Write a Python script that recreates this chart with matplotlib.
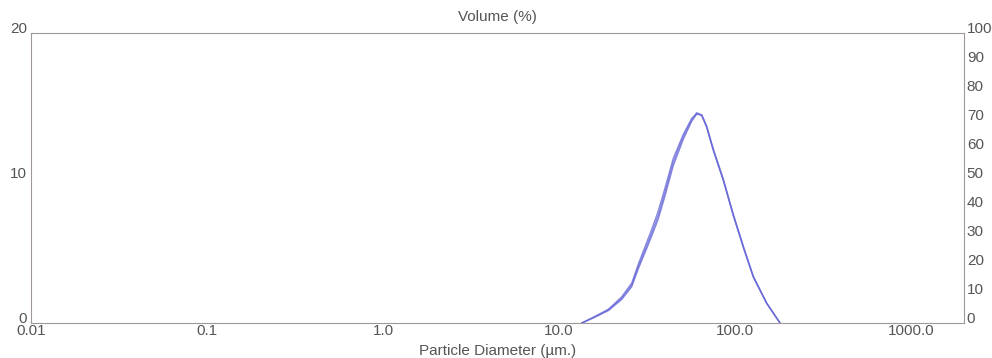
import matplotlib
matplotlib.use('Agg')
import matplotlib.pyplot as plt

# particle size distribution, a few overlapping runs
size_um = [13.5, 16.0, 19.1, 22.7, 25.9, 28.2, 30.8, 33.6, 36.6, 40.0, 44.6, 50.8,
           56.7, 60.6, 64.7, 69.0, 75.3, 85.9, 97.8, 111.5, 127.1, 151.4, 180.2]
run_1 = [0.0, 0.43, 0.90, 1.70, 2.62, 3.88, 5.03, 6.19, 7.40, 9.00, 11.10, 12.85,
         14.0, 14.5, 14.34, 13.54, 11.93, 9.86, 7.45, 5.26, 3.19, 1.36, 0.0]
run_2 = [0.0, 0.45, 0.95, 1.80, 2.75, 4.05, 5.25, 6.45, 7.70, 9.30, 11.35, 13.00,
         14.1, 14.45, 14.30, 13.50, 11.90, 9.80, 7.40, 5.20, 3.15, 1.34, 0.0]
run_3 = [0.0, 0.40, 0.86, 1.62, 2.50, 3.72, 4.85, 5.98, 7.15, 8.75, 10.85, 12.65,
         13.9, 14.4, 14.36, 13.60, 12.00, 9.92, 7.50, 5.30, 3.22, 1.38, 0.0]

x_ticks = [0.01, 0.1, 1.0, 10.0, 100.0, 1000.0]
x_labels = ["0.01", "0.1", "1.0", "10.0", "100.0", "1000.0"]
left_ticks = [0, 10, 20]
right_ticks = list(range(0, 101, 10))

plt.rcParams['font.family'] = ['Liberation Sans', 'DejaVu Sans']
txt = '#555555'
edge = '#a09898'

fig = plt.figure(figsize=(9.92, 3.58), dpi=100)
ax = fig.add_axes([0.03125, 0.0978, 0.9405, 0.81])
for run in [run_1, run_2, run_3]:
    ax.plot(size_um, run, color='#6a6ad8', lw=1.0, alpha=0.8)

ax.set_xscale('log')
ax.set_xlim(0.01, 2000)
ax.set_ylim(0, 20)
ax.set_xticks(x_ticks)
ax.set_xticklabels(x_labels)
ax.minorticks_off()
ax.set_yticks(left_ticks)
ax.tick_params(length=0, labelsize=11, colors=txt)
ax.tick_params(axis='x', pad=1)
ax.tick_params(axis='y', pad=3)
for lab in ax.get_yticklabels():
    lab.set_verticalalignment('baseline')
for s in ax.spines.values():
    s.set_color(edge)
    s.set_linewidth(0.8)
ax.set_xlabel("Particle Diameter (µm.)", fontsize=11, color=txt, labelpad=4)
ax.set_title("Volume (%)", fontsize=11, color=txt, pad=9)

ax2 = ax.twinx()
ax2.set_ylim(0, 100)
ax2.set_yticks(right_ticks)
ax2.tick_params(length=0, labelsize=11, colors=txt, pad=2)
for lab in ax2.get_yticklabels():
    lab.set_verticalalignment('baseline')
for s in ax2.spines.values():
    s.set_visible(False)

fig.savefig('out.png', dpi=100)
